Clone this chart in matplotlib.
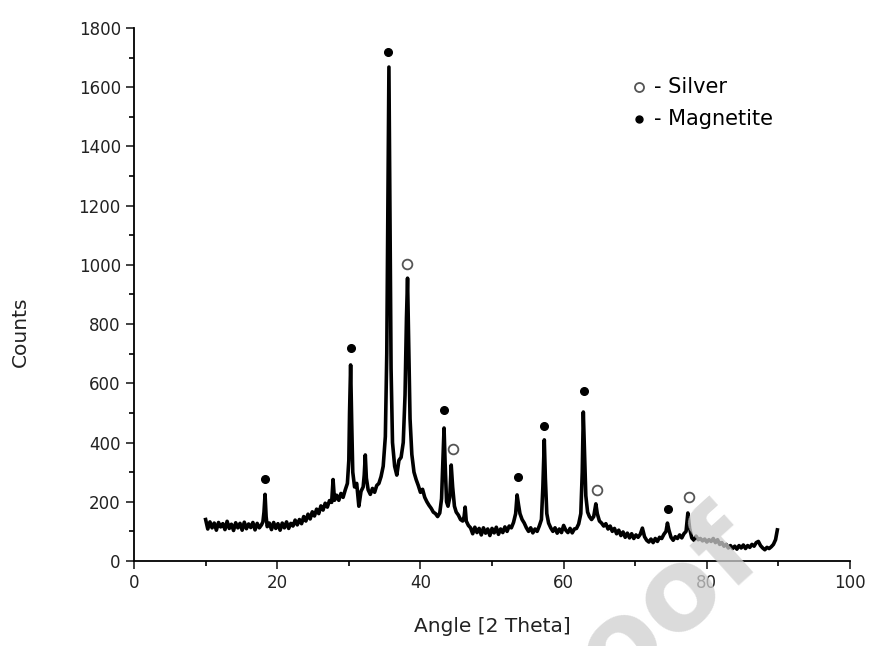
import matplotlib.pyplot as plt
from matplotlib.ticker import MultipleLocator

# XRD pattern
angle = [
    10.0, 10.3, 10.6, 10.9, 11.2, 11.5, 11.8, 12.1, 12.4, 12.7,
    13.0, 13.3, 13.6, 13.9, 14.2, 14.5, 14.8, 15.1, 15.4, 15.7,
    16.0, 16.3, 16.6, 16.9, 17.2, 17.5, 17.8, 18.0, 18.15, 18.3,
    18.45, 18.6, 18.9, 19.2, 19.5, 19.8, 20.1, 20.4, 20.7, 21.0,
    21.3, 21.6, 21.9, 22.2, 22.5, 22.8, 23.1, 23.4, 23.7, 24.0,
    24.3, 24.6, 24.9, 25.2, 25.5, 25.8, 26.1, 26.4, 26.7, 27.0,
    27.3, 27.6, 27.8, 28.0, 28.3, 28.6, 28.9, 29.2, 29.5, 29.8,
    30.0, 30.1, 30.25, 30.4, 30.55, 30.8, 31.1, 31.4, 31.7, 32.0,
    32.15, 32.3, 32.45, 32.7, 33.0, 33.3, 33.6, 33.9, 34.2, 34.5,
    34.8, 35.1, 35.3, 35.45, 35.6, 35.75, 35.9, 36.1, 36.4, 36.7,
    37.0, 37.3, 37.6, 37.85, 38.05, 38.2, 38.35, 38.55, 38.8, 39.1,
    39.4, 39.7, 40.0, 40.3, 40.6, 40.9, 41.2, 41.5, 41.8, 42.1,
    42.4, 42.7, 42.95, 43.15, 43.3, 43.45, 43.65, 43.85, 44.1, 44.3,
    44.5, 44.75, 45.0, 45.3, 45.6, 45.9, 46.1, 46.25, 46.4, 46.7,
    47.0, 47.3, 47.6, 47.9, 48.2, 48.5, 48.8, 49.1, 49.4, 49.7,
    50.0, 50.3, 50.6, 50.9, 51.2, 51.5, 51.8, 52.1, 52.4, 52.7,
    53.0, 53.3, 53.5, 53.7, 53.9, 54.2, 54.5, 54.8, 55.1, 55.4,
    55.7, 56.0, 56.3, 56.6, 56.9, 57.1, 57.3, 57.45, 57.65, 57.9,
    58.2, 58.5, 58.8, 59.1, 59.4, 59.7, 60.0, 60.3, 60.6, 60.9,
    61.2, 61.5, 61.8, 62.1, 62.4, 62.6, 62.75, 62.9, 63.1, 63.35,
    63.6, 63.9, 64.2, 64.5, 64.7, 65.0, 65.3, 65.6, 65.9, 66.2,
    66.5, 66.8, 67.1, 67.4, 67.7, 68.0, 68.3, 68.6, 68.9, 69.2,
    69.5, 69.8, 70.1, 70.4, 70.7, 71.0, 71.3, 71.6, 71.9, 72.2,
    72.5, 72.8, 73.1, 73.4, 73.7, 74.0, 74.3, 74.5, 74.7, 75.0,
    75.3, 75.6, 75.9, 76.2, 76.5, 76.8, 77.1, 77.35, 77.6, 77.9,
    78.2, 78.5, 78.8, 79.1, 79.4, 79.7, 80.0, 80.3, 80.6, 80.9,
    81.2, 81.5, 81.8, 82.1, 82.4, 82.7, 83.0, 83.3, 83.6, 83.9,
    84.2, 84.5, 84.8, 85.1, 85.4, 85.7, 86.0, 86.3, 86.6, 86.9,
    87.2, 87.5, 87.8, 88.1, 88.4, 88.7, 89.0, 89.3, 89.6, 89.85,
]
counts = [
    140, 108, 132, 112, 128, 104, 130, 115, 126, 106,
    134, 110, 124, 103, 129, 112, 127, 104, 131, 109,
    125, 113, 130, 105, 127, 112, 122, 132, 165, 225,
    150, 116, 128, 106, 130, 110, 126, 104, 128, 112,
    132, 110, 127, 118, 138, 122, 140, 126, 150, 135,
    158, 142, 166, 152, 175, 160, 186, 172, 195, 182,
    204, 198, 275, 205, 222, 205, 228, 215, 240, 262,
    340, 500, 662, 470, 300, 250, 262, 185, 235, 250,
    290, 358, 280, 240, 225, 245, 232, 255, 262, 285,
    320, 420, 700, 1200, 1668, 1150, 650, 400, 320, 290,
    340, 350, 400, 560, 820, 955, 760, 480, 360, 300,
    275, 255, 232, 242, 215, 200, 188, 178, 165, 160,
    150, 162, 210, 350, 449, 330, 200, 185, 215, 324,
    250, 185, 165, 155, 140, 135, 150, 182, 135, 120,
    112, 92, 114, 96, 110, 88, 112, 94, 108, 86,
    110, 95, 114, 90, 108, 96, 115, 100, 118, 112,
    130, 160, 223, 190, 160, 140, 128, 112, 100, 112,
    95, 108, 100, 118, 140, 250, 409, 280, 160, 128,
    112, 100, 112, 94, 108, 96, 120, 104, 96, 110,
    95, 108, 110, 125, 160, 300, 503, 380, 220, 165,
    150, 140, 150, 193, 160, 135, 128, 118, 126, 108,
    118, 100, 110, 92, 104, 86, 98, 80, 94, 78,
    92, 76, 88, 80, 90, 111, 82, 70, 64, 74,
    62, 76, 66, 80, 76, 90, 100, 128, 105, 80,
    70, 82, 76, 88, 78, 92, 100, 162, 110, 78,
    70, 84, 72, 76, 68, 74, 64, 72, 66, 76,
    62, 72, 56, 62, 50, 56, 44, 52, 42, 50,
    40, 52, 44, 54, 42, 52, 46, 56, 50, 62,
    66, 52, 44, 38, 46, 42, 48, 56, 72, 105,
]

# peak labels
magnetite_x = [18.3, 30.3, 35.5, 43.3, 53.6, 57.3, 62.9, 74.6]
magnetite_y = [277, 719, 1719, 510, 284, 456, 574, 176]
silver_x = [38.1, 44.6, 64.7, 77.5]
silver_y = [1003, 378, 240, 216]

fig = plt.figure(figsize=(8.72, 6.46), dpi=100)
ax = fig.add_axes([0.1537, 0.1316, 0.8211, 0.8251])

ax.plot(angle, counts, color='black', lw=2.6, solid_joinstyle='round')
ax.plot(magnetite_x, magnetite_y, 'o', color='black', ms=5.5)
ax.plot(silver_x, silver_y, 'o', mfc='white', mec='#555555', mew=1.3, ms=7)

# hand-made legend
ax.plot([70.5], [1600], 'o', mfc='white', mec='#555555', mew=1.3, ms=6.5)
ax.plot([70.5], [1493], 'o', color='black', ms=5)
ax.text(72.6, 1600, '- Silver', fontsize=15, va='center')
ax.text(72.6, 1493, '- Magnetite', fontsize=15, va='center')

ax.set_xlim(0, 100)
ax.set_ylim(0, 1800)
ax.xaxis.set_major_locator(MultipleLocator(20))
ax.xaxis.set_minor_locator(MultipleLocator(10))
ax.yaxis.set_major_locator(MultipleLocator(200))
ax.yaxis.set_minor_locator(MultipleLocator(100))
ax.tick_params(which='major', direction='out', length=6, width=1.2, labelsize=12, colors='#222222')
ax.tick_params(which='minor', direction='out', length=3.5, width=1.2)
ax.spines['top'].set_visible(False)
ax.spines['right'].set_visible(False)
ax.spines['left'].set_linewidth(1.3)
ax.spines['bottom'].set_linewidth(1.3)

ax.set_xlabel('Angle [2 Theta]', fontsize=14.5, color='#222222')
ax.set_ylabel('Counts', fontsize=14.5, color='#222222')
ax.xaxis.set_label_coords(0.5, -0.105)
ax.yaxis.set_label_coords(-0.145, 0.43)

# faint "Proof" watermark over the lower right, runs off the bottom edge like the original
fig.text(0.877, 0.143, 'Proof', fontsize=82, fontweight='bold', color='#cfcfcf',
         alpha=0.75, rotation=42, rotation_mode='anchor', ha='right', va='baseline', zorder=10)

fig.savefig('out.png', dpi=100)
